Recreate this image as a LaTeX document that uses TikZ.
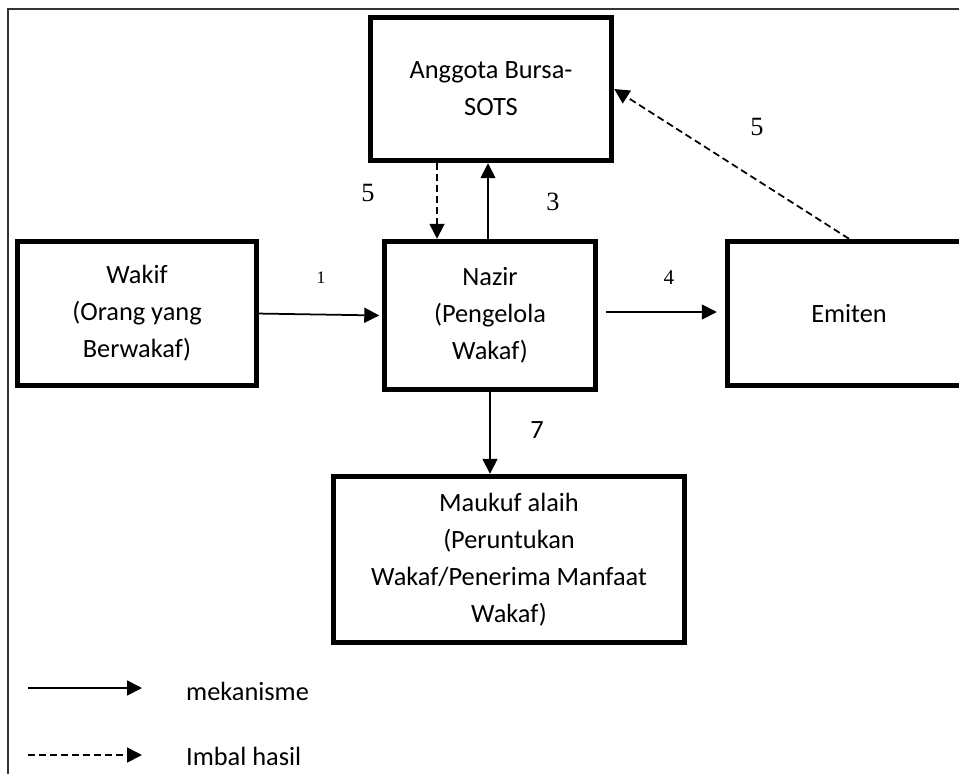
\documentclass[tikz,border=0pt]{standalone}
\usepackage{fontspec}
\setmainfont{Carlito}
\newfontfamily\angkafont{Liberation Serif}
\usetikzlibrary{arrows.meta}
\tikzset{
  kotak/.style={draw,line width=0.11cm,align=center,inner sep=0pt,font=\fontsize{15}{21}\selectfont},
  mek/.style={line width=0.035cm,-{Triangle[length=0.3cm,width=0.3cm]}},
  imbal/.style={mek,dash pattern=on 0.14cm off 0.08cm},
  angka/.style={font=\angkafont\fontsize{15}{18}\selectfont},
  ket/.style={anchor=west,font=\fontsize{15}{18}\selectfont}
}
\begin{document}
\begin{tikzpicture}[x=0.02cm,y=-0.02cm]
	\clip (0,0) rectangle (959,774);
	\draw[black!80,line width=0.6pt] (8,774)--(8,9)--(959,9);
	% kotak
	\node[kotak,minimum width=4.82cm,minimum height=2.86cm] (bursa) at (491,89) {Anggota Bursa-\\SOTS};
	\node[kotak,minimum width=4.78cm,minimum height=2.88cm] (wakif) at (137,313.5) {Wakif\\(Orang yang\\Berwakaf)};
	\node[kotak,minimum width=4.22cm,minimum height=2.96cm] (nazir) at (490,315.5) {Nazir\\(Pengelola\\Wakaf)};
	\node[kotak,minimum width=4.86cm,minimum height=2.88cm] (emiten) at (849,313.5) {Emiten};
	\node[kotak,minimum width=7.02cm,minimum height=3.32cm] (maukuf) at (509,559.5) {Maukuf alaih\\(Peruntukan\\Wakaf/Penerima Manfaat\\Wakaf)};
	% panah
	\draw[mek,shorten >=0.05cm] ([xshift=-0.08cm]wakif.east) -- (nazir.west);
	\draw[mek,shorten <=0.16cm,shorten >=0.16cm] ([yshift=0.07cm]nazir.east) -- ([yshift=0.07cm]nazir.east -| emiten.west);
	\draw[mek] ([xshift=-0.04cm]nazir.north) -- ([xshift=-0.04cm]nazir.north |- bursa.south);
	\draw[imbal] ([xshift=-1.08cm]bursa.south) -- ([xshift=-1.08cm]bursa.south |- nazir.north);
	\draw[imbal] (emiten.north) -- (bursa.east);
	\draw[mek] (nazir.south) -- (nazir.south |- maukuf.north);
	% angka
	\node[angka] (a1) at (321,278) {\fontsize{10}{11}\selectfont 1};
	\node[angka] (a5a) at (368,193) {5};
	\node[angka] (a3) at (553,202) {3};
	\node[angka] (a4) at (669,278) {\fontsize{12}{13}\selectfont 4};
	\node[angka] (a5b) at (757,127) {5};
	\node[font=\fontsize{15}{18}\selectfont] (a7) at (537,430) {7};
	% keterangan
	\coordinate (m1) at (28,688); \coordinate (m2) at (142,688);
	\coordinate (i1) at (28,755); \coordinate (i2) at (142,755);
	\draw[mek] (m1)--(m2);
	\draw[imbal] (i1)--(i2);
	\node[ket] (lmek) at (180,691) {mekanisme};
	\node[ket] (limbal) at (180,756) {Imbal hasil};
\end{tikzpicture}
\end{document}
